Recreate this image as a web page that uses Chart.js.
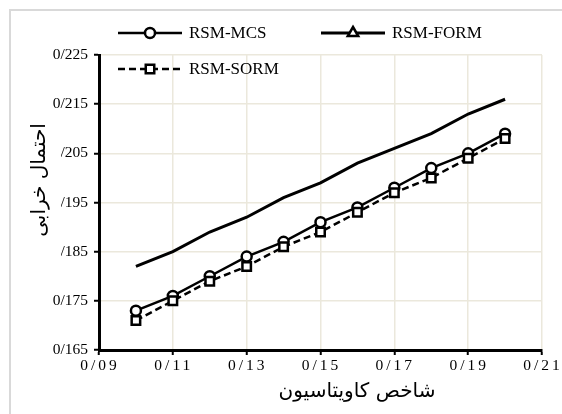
<!DOCTYPE html>
<html>
<head>
<meta charset="utf-8">
<script src="https://cdn.jsdelivr.net/npm/chart.js@4/dist/chart.umd.min.js"></script>
<style>
  html, body { margin: 0; padding: 0; background: #fff; }
  #wrap { width: 562px; height: 414px; position: relative; }
</style>
</head>
<body>
<div id="wrap"><canvas id="c" width="562" height="414"></canvas></div>
<script>
// Cavitation index (x) and failure probability for each method
const cavitationIndex = [0.10, 0.11, 0.12, 0.13, 0.14, 0.15, 0.16, 0.17, 0.18, 0.19, 0.20];
const rsmMcs  = [0.173, 0.176, 0.180, 0.184, 0.187, 0.191, 0.194, 0.198, 0.202, 0.205, 0.209];
const rsmForm = [0.182, 0.185, 0.189, 0.192, 0.196, 0.199, 0.203, 0.206, 0.209, 0.213, 0.216];
const rsmSorm = [0.171, 0.175, 0.179, 0.182, 0.186, 0.189, 0.193, 0.197, 0.200, 0.204, 0.208];
const seriesNames = ['RSM-MCS', 'RSM-FORM', 'RSM-SORM'];
const xTitle = 'شاخص کاویتاسیون';
const yTitle = 'احتمال خرابی';

const SERIF = "'Liberation Serif', 'Times New Roman', serif";
const ARABIC = "'DejaVu Sans', 'Noto Sans', sans-serif";
const GRID = '#ebe8dc';

// Persian-style decimal separator
const fmt = (v, d) => v.toFixed(d).replace('.', '/');
const pts = ys => cavitationIndex.map((x, i) => ({ x: x, y: ys[i] }));

const datasets = [
  { label: seriesNames[0], data: pts(rsmMcs), borderColor: '#000', borderWidth: 2.5,
    pointStyle: 'circle', pointRadius: 5, pointBorderWidth: 2.5, pointBackgroundColor: '#fff',
    pointBorderColor: '#000', order: 1, legendPos: [118, 33] },
  { label: seriesNames[1], data: pts(rsmForm), borderColor: '#000', borderWidth: 3,
    pointStyle: 'triangle', pointRadius: 0, legendRadius: 6, pointBorderWidth: 2.5,
    order: 2, legendPos: [321, 33] },
  { label: seriesNames[2], data: pts(rsmSorm), borderColor: '#000', borderWidth: 2.5,
    borderDash: [7, 4], pointStyle: 'rect', pointRadius: 6, pointBorderWidth: 2.5,
    pointBackgroundColor: '#fff', pointBorderColor: '#000', order: 0, legendPos: [118, 69] }
];

const framePlugin = {
  id: 'frame',
  beforeDraw(chart) {
    const ctx = chart.ctx;
    ctx.save();
    ctx.fillStyle = '#fff';
    ctx.fillRect(0, 0, chart.width, chart.height);
    ctx.strokeStyle = '#d9d9d9';
    ctx.lineWidth = 2;
    ctx.strokeRect(10, 10, 620, 480);
    ctx.restore();
  },
  afterDraw(chart) {
    const ctx = chart.ctx;
    const xs = chart.scales.x;
    ctx.save();
    // x tick labels, letter-spaced
    ctx.fillStyle = '#000';
    ctx.font = '15.5px ' + SERIF;
    ctx.letterSpacing = '3px';
    ctx.textAlign = 'center';
    ctx.textBaseline = 'middle';
    xs.ticks.forEach(t => {
      const px = xs.getPixelForValue(t.value);
      ctx.fillText(fmt(t.value, 2), px + 1, 366);
    });
    ctx.letterSpacing = '0px';
    // x title
    ctx.font = '20px ' + ARABIC;
    ctx.fillText(xTitle, 357, 392);
    // y title on a white box
    ctx.fillStyle = '#fff';
    ctx.fillRect(18, 116, 43, 144);
    ctx.translate(40, 180);
    ctx.rotate(-Math.PI / 2);
    ctx.fillStyle = '#000';
    ctx.font = '20px ' + ARABIC;
    ctx.fillText(yTitle, 0, 0);
    ctx.restore();

    // legend
    ctx.save();
    chart.data.datasets.forEach(ds => {
      const [lx, ly] = ds.legendPos;
      ctx.strokeStyle = '#000';
      ctx.lineWidth = ds.borderWidth;
      ctx.setLineDash(ds.borderDash || []);
      ctx.beginPath();
      ctx.moveTo(lx, ly);
      ctx.lineTo(lx + 64, ly);
      ctx.stroke();
      ctx.setLineDash([]);
      ctx.fillStyle = '#fff';
      ctx.lineWidth = 2.5;
      Chart.helpers.drawPoint(ctx, {
        pointStyle: ds.pointStyle,
        radius: ds.legendRadius || ds.pointRadius,
        borderWidth: 2.5,
        rotation: 0
      }, lx + 32, ly);
      ctx.fillStyle = '#000';
      ctx.font = '17px ' + SERIF;
      ctx.textAlign = 'left';
      ctx.textBaseline = 'middle';
      ctx.fillText(ds.label, lx + 71, ly + 1);
    });
    ctx.restore();
  }
};

new Chart(document.getElementById('c'), {
  type: 'line',
  data: { datasets: datasets },
  options: {
    responsive: false,
    animation: false,
    layout: { padding: { top: 55, right: 20, left: 0, bottom: 0 } },
    plugins: { legend: { display: false }, tooltip: { enabled: false } },
    scales: {
      x: {
        type: 'linear', min: 0.09, max: 0.21,
        ticks: { stepSize: 0.02, display: false },
        grid: { color: GRID, lineWidth: 1.5, tickColor: '#000', tickLength: 5, tickWidth: 2 },
        border: { color: '#000', width: 3 },
        afterFit: s => { s.height = 64; }
      },
      y: {
        min: 0.165, max: 0.225,
        ticks: { stepSize: 0.01, color: '#000', padding: 6,
                 font: { family: SERIF, size: 15.5 },
                 callback: v => fmt(v, 3) },
        grid: { color: GRID, lineWidth: 1.5, tickColor: '#000', tickLength: 5, tickWidth: 2 },
        border: { color: '#000', width: 3 },
        afterFit: s => { s.width = 99; }
      }
    }
  },
  plugins: [framePlugin]
});
</script>
</body>
</html>
